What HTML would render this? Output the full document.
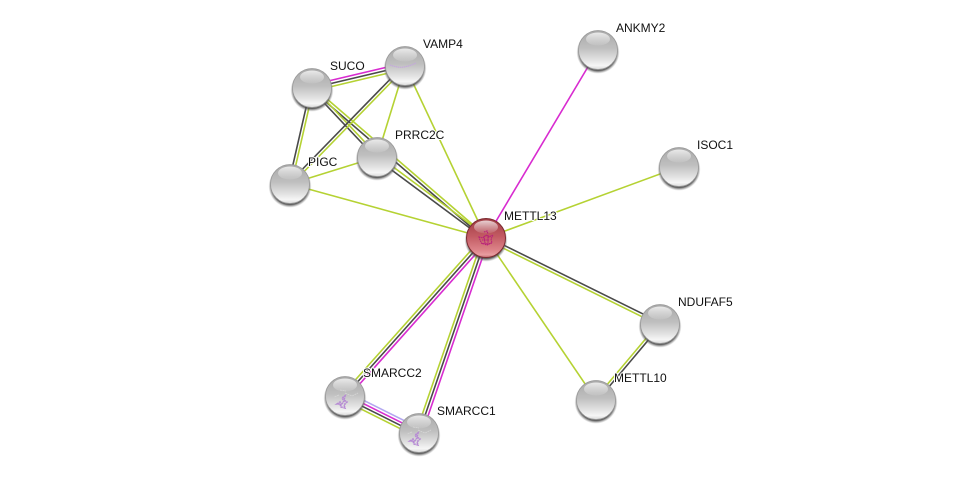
<!DOCTYPE html>
<html><head><meta charset="utf-8"><style>
html,body{margin:0;padding:0;background:#fff}
svg{display:block}
text{font-family:"Liberation Sans",sans-serif;font-size:12px;fill:#111;paint-order:stroke;stroke:#fff;stroke-width:2px;stroke-linejoin:round}
.y{stroke:#b5d233}.d{stroke:#4a4a4a}.m{stroke:#d82bd0}.b{stroke:#b3a8f0}
line{stroke-width:1.6}
</style></head><body>
<svg width="976" height="478" viewBox="0 0 976 478" xmlns="http://www.w3.org/2000/svg">
<defs>
<linearGradient id="g" x1="0" y1="0" x2="0" y2="1"><stop offset="0" stop-color="#a8a8a8"/><stop offset=".45" stop-color="#bfbfbf"/><stop offset=".72" stop-color="#dedede"/><stop offset=".9" stop-color="#f6f6f6"/><stop offset="1" stop-color="#d8d8d8"/></linearGradient>
<linearGradient id="r" x1="0" y1="0" x2="0" y2="1"><stop offset="0" stop-color="#a03c44"/><stop offset=".45" stop-color="#c25a62"/><stop offset=".8" stop-color="#dc8288"/><stop offset=".93" stop-color="#e89ca0"/><stop offset="1" stop-color="#c06a70"/></linearGradient>
<linearGradient id="h" x1="0" y1="0" x2="0" y2="1"><stop offset="0" stop-color="#fff" stop-opacity=".75"/><stop offset="1" stop-color="#fff" stop-opacity=".08"/></linearGradient>
<radialGradient id="s" cx="50%" cy="50%" r="50%"><stop offset=".86" stop-color="#444" stop-opacity=".85"/><stop offset="1" stop-color="#888" stop-opacity="0"/></radialGradient>
<g id="n"><circle cx="0" cy="2.2" r="21.5" fill="url(#s)"/><circle r="19.5" fill="url(#g)" stroke="#999" stroke-width=".8"/><ellipse cx="0" cy="-11" rx="12" ry="6.5" fill="url(#h)"/></g>
<g id="t"><circle cx="0" cy="2.2" r="21.5" fill="url(#s)"/><circle r="19.5" fill="url(#r)" stroke="#7c2a30" stroke-width="1"/><ellipse cx="0" cy="-11" rx="12" ry="6.5" fill="url(#h)"/></g>
<g id="p" fill="none" stroke="#b68ad4" stroke-width="1.6" stroke-dasharray="2 .6"><path d="M-6 6l3-2 1 3 3-4-2-3 3-2-1 4 3 2-3 3 1 3-4-1-1-3z"/><path d="M2-5l7 3 6-3M-3-8l6 1M-4 -3l-5 2" stroke="#d8d8d8" stroke-width=".7"/></g>
</defs>
<rect width="976" height="478" fill="#fff"/>

<line class="y" x1="405" y1="66" x2="377" y2="157"/>
<line class="y" x1="405" y1="66" x2="486" y2="238"/>
<line class="y" x1="290" y1="184" x2="377" y2="157"/>
<line class="y" x1="290" y1="184" x2="486" y2="238"/>
<line class="y" x1="679" y1="167" x2="486" y2="238"/>
<line class="y" x1="596" y1="400" x2="486" y2="238"/>
<line class="m" x1="598" y1="50" x2="486" y2="238"/>

<line class="y" x1="313" y1="86.9" x2="487" y2="236.9"/>
<line class="d" x1="311" y1="89.1" x2="485" y2="239.1"/>
<line class="y" x1="313" y1="87" x2="378" y2="156"/>
<line class="d" x1="311" y1="89" x2="376" y2="158"/>
<line class="y" x1="378" y1="155.6" x2="487" y2="236.6"/>
<line class="d" x1="376" y1="158.4" x2="485" y2="239.4"/>
<line class="m" x1="311.3" y1="85" x2="404.3" y2="63"/>
<line class="d" x1="312" y1="88" x2="405" y2="66"/>
<line class="y" x1="312.7" y1="91" x2="405.7" y2="69"/>
<line class="d" x1="310.6" y1="87.7" x2="288.6" y2="183.7"/>
<line class="y" x1="313.4" y1="88.3" x2="291.4" y2="184.3"/>
<line class="d" x1="404" y1="65" x2="289" y2="183"/>
<line class="y" x1="406" y1="67" x2="291" y2="185"/>
<line class="d" x1="486.7" y1="236.7" x2="660.7" y2="322.7"/>
<line class="y" x1="485.3" y1="239.3" x2="659.3" y2="325.3"/>
<line class="d" x1="661" y1="325" x2="597" y2="401"/>
<line class="y" x1="659" y1="323" x2="595" y2="399"/>
<line class="y" x1="342.8" y1="394" x2="483.8" y2="236"/>
<line class="d" x1="345" y1="396" x2="486" y2="238"/>
<line class="m" x1="347.2" y1="398" x2="488.2" y2="240"/>
<line class="y" x1="416.2" y1="432" x2="483.2" y2="237"/>
<line class="d" x1="419" y1="433" x2="486" y2="238"/>
<line class="m" x1="421.8" y1="434" x2="488.8" y2="239"/>
<line class="b" x1="347" y1="392" x2="421" y2="429"/>
<line class="m" x1="345.7" y1="394.7" x2="419.7" y2="431.7"/>
<line class="d" x1="344.3" y1="397.3" x2="418.3" y2="434.3"/>
<line class="y" x1="343" y1="400" x2="417" y2="437"/>

<use href="#n" x="405" y="66"/>
<path d="M390 65q8 3 14 2t12-4" fill="none" stroke="#c4a8dc" stroke-width="1.1" stroke-dasharray="1.5 .5"/>
<use href="#n" x="312" y="88"/>
<use href="#n" x="377" y="157"/>
<use href="#n" x="290" y="184"/>
<use href="#n" x="598" y="50"/>
<use href="#n" x="679" y="167"/>
<use href="#n" x="660" y="324"/>
<use href="#n" x="596" y="400"/>
<use href="#n" x="345" y="396"/><use href="#p" x="343" y="398"/>
<use href="#n" x="419" y="433"/><use href="#p" x="416" y="435"/>
<use href="#t" x="486" y="238"/>
<path d="M479 237l4 1 3-3 3 2 4-2-2 4 1 4-4 1-3-1-3 1-2-4zM484 232l3-1 1 3M481 243l6 2 4-2M482 240l7 0M484 236l1 8M488 235l0 8" fill="none" stroke="#b8207a" stroke-width="1.1" stroke-dasharray="1.5 .6"/>

<text x="423" y="48">VAMP4</text>
<text x="330" y="70">SUCO</text>
<text x="395" y="139">PRRC2C</text>
<text x="308" y="166">PIGC</text>
<text x="616" y="32">ANKMY2</text>
<text x="697" y="149">ISOC1</text>
<text x="504" y="220">METTL13</text>
<text x="678" y="306">NDUFAF5</text>
<text x="614" y="382">METTL10</text>
<text x="363" y="377">SMARCC2</text>
<text x="437" y="415">SMARCC1</text>
</svg>
</body></html>
